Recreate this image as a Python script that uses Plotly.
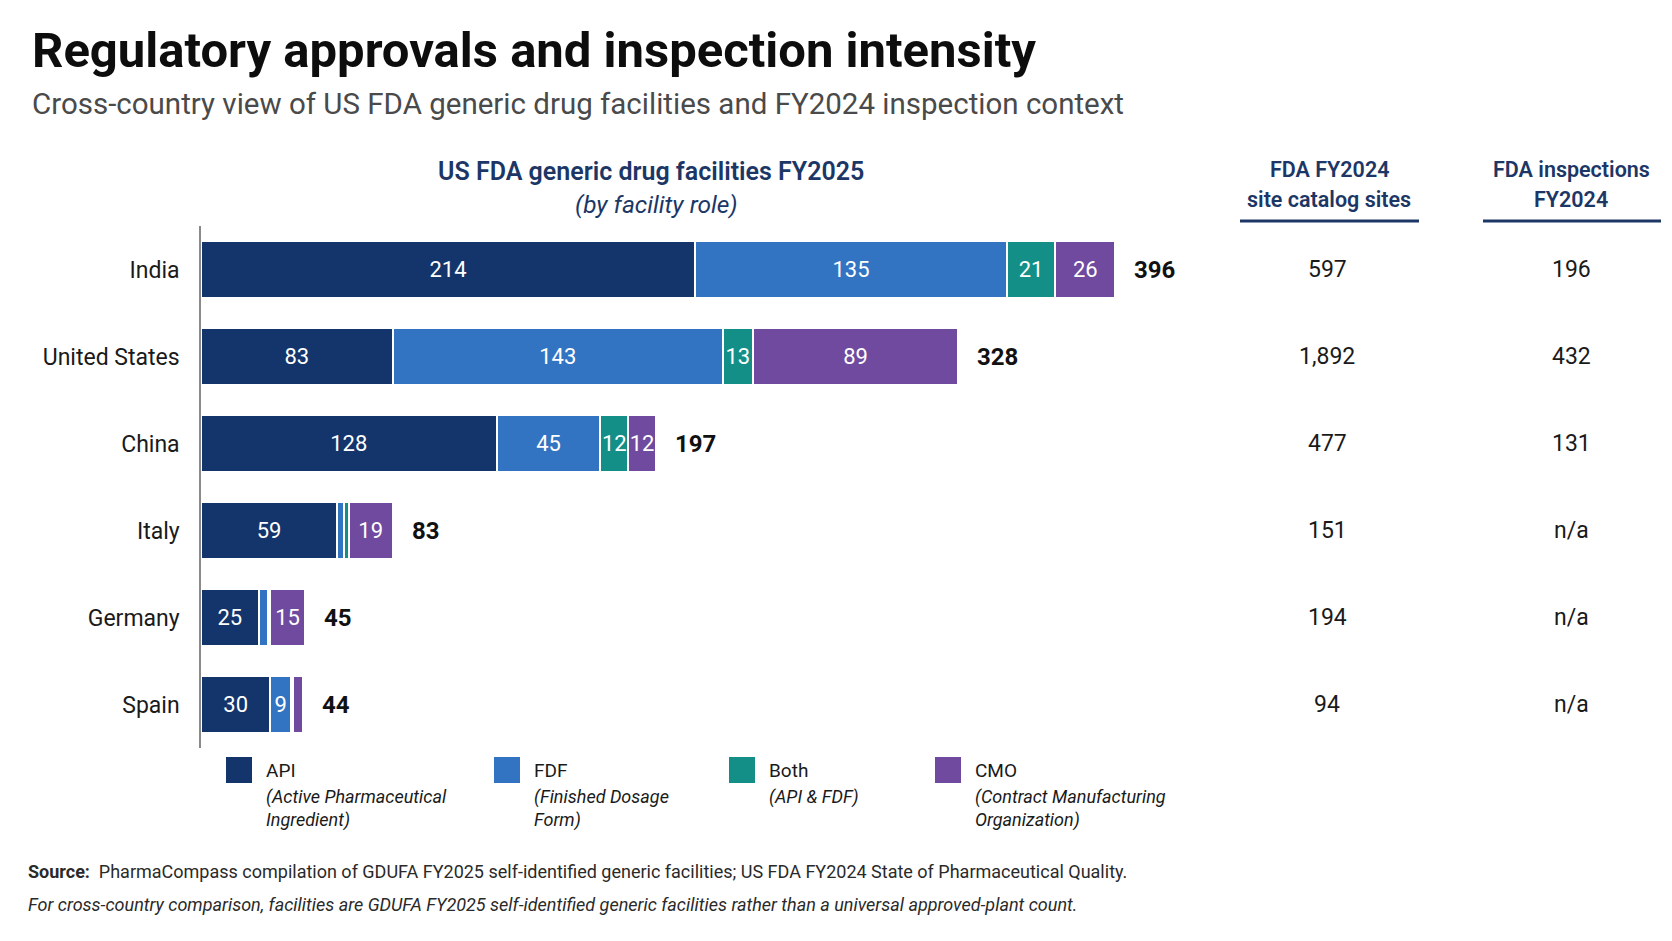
import plotly.graph_objects as go

# ---------------- data ----------------
countries = ["India", "United States", "China", "Italy", "Germany", "Spain"]
api = [214, 83, 128, 59, 25, 30]
fdf = [135, 143, 45, 3, 4, 9]
both = [21, 13, 12, 2, 1, 1]
cmo = [26, 89, 12, 19, 15, 4]
catalog_sites = [597, 1892, 477, 151, 194, 94]
inspections = [196, 432, 131, None, None, None]

series_names = ["API", "FDF", "Both", "CMO"]
series_desc = ["(Active Pharmaceutical<br>Ingredient)", "(Finished Dosage<br>Form)",
               "(API & FDF)", "(Contract Manufacturing<br>Organization)"]
series_colors = ["#13356b", "#3374c2", "#148f88", "#6f4a9e"]

# ---------------- layout geometry (pixels) ----------------
W_FIG, H_FIG = 1672, 941
L, R_EDGE = 201, 1210          # plot area left / right
T, B = 226, 748                # plot area top / bottom
PW, PH = R_EDGE - L, B - T
X_MAX = 437
PX_PER_UNIT = PW / X_MAX

FONT = "Roboto, Lato, 'Noto Sans', sans-serif"
NAVY = "#1c3766"


def px(xp):
    return (xp - L) / PW


def py(yp):
    return (B - yp) / PH


fig = go.Figure()

for name, vals, col in zip(series_names, [api, fdf, both, cmo], series_colors):
    labels = [str(v) if v * PX_PER_UNIT >= len(str(v)) * 12 + 2 else "" for v in vals]
    fig.add_trace(go.Bar(
        y=countries, x=vals, name=name, orientation="h",
        marker=dict(color=col, line=dict(color="white", width=2)),
        text=labels, textposition="inside", insidetextanchor="middle",
        textangle=0, constraintext="none",
        textfont=dict(color="white", size=22, family=FONT),
        width=0.66, hoverinfo="x+y+name",
    ))

annotations = []
shapes = []


def note(x, y, text, size, color, xanchor="center", yanchor="middle", weight=None,
         align="center", xref="paper", yref="paper"):
    f = dict(size=size, color=color, family=FONT)
    if weight:
        f["weight"] = weight
    annotations.append(dict(x=x, y=y, xref=xref, yref=yref, text=text, showarrow=False,
                            xanchor=xanchor, yanchor=yanchor, align=align, font=f))


# totals
totals = [a + b + c + d for a, b, c, d in zip(api, fdf, both, cmo)]
for c, t in zip(countries, totals):
    annotations.append(dict(x=t, y=c, xref="x", yref="y", text=f"<b>{t}</b>",
                            xanchor="left", yanchor="middle", xshift=17, showarrow=False,
                            font=dict(size=24, color="#111111", family=FONT)))

# right columns
for c, s, i in zip(countries, catalog_sites, inspections):
    note(px(1327), c, f"{s:,}", 23, "#1a1a1a", yref="y")
    note(px(1571), c, "n/a" if i is None else f"{i:,}", 23, "#1a1a1a", yref="y")

# title and subtitle
note(px(30), py(50), "<b>Regulatory approvals and inspection intensity</b>", 49, "#0d0d0d",
     xanchor="left")
note(px(30), py(104), "Cross-country view of US FDA generic drug facilities and FY2024 inspection context",
     29.5, "#4a4a4a", xanchor="left")

# section headers
note(px(651), py(171), "US FDA generic drug facilities FY2025", 25, NAVY, weight=600)
note(px(656), py(204), "<i>(by facility role)</i>", 24.5, NAVY)
note(px(1329), py(169), "FDA FY2024", 21.5, NAVY, weight=600)
note(px(1329), py(199), "site catalog sites", 21.5, NAVY, weight=600)
note(px(1571), py(169), "FDA inspections", 21.5, NAVY, weight=600)
note(px(1571), py(199), "FY2024", 21.5, NAVY, weight=600)
for x0, x1 in [(1240, 1419), (1483, 1661)]:
    shapes.append(dict(type="line", xref="paper", yref="paper", x0=px(x0), x1=px(x1),
                       y0=py(221), y1=py(221), line=dict(color=NAVY, width=3)))

# custom legend
legend_sq_x = [226, 494, 729, 935]
for sx, name, desc, col in zip(legend_sq_x, series_names, series_desc, series_colors):
    shapes.append(dict(type="rect", xref="paper", yref="paper", x0=px(sx), x1=px(sx + 26),
                       y0=py(783), y1=py(757), fillcolor=col, line=dict(width=0)))
    note(px(sx + 38), py(770), name, 19, "#1a1a1a", xanchor="left")
    note(px(sx + 38), py(784), f"<i>{desc}</i>", 18, "#1a1a1a", xanchor="left",
         yanchor="top", align="left")

# source notes
note(px(26), py(871),
     "<b>Source:</b>  PharmaCompass compilation of GDUFA FY2025 self-identified generic facilities; US FDA FY2024 State of Pharmaceutical Quality.",
     18, "#2a2a2a", xanchor="left")
note(px(26), py(904),
     "<i>For cross-country comparison, facilities are GDUFA FY2025 self-identified generic facilities rather than a universal approved-plant count.</i>",
     18, "#2a2a2a", xanchor="left")

fig.update_layout(
    width=W_FIG, height=H_FIG,
    margin=dict(l=L, r=W_FIG - R_EDGE, t=T, b=H_FIG - B, autoexpand=False),
    barmode="stack", bargap=0.34,
    plot_bgcolor="white", paper_bgcolor="white",
    showlegend=False,
    font=dict(family=FONT),
    xaxis=dict(range=[0, X_MAX], visible=False, fixedrange=True),
    yaxis=dict(autorange="reversed", showline=True, linecolor="#8a8a8a", linewidth=1.5,
               ticks="", showgrid=False, ticklabelstandoff=15,
               tickfont=dict(size=23, color="#1a1a1a", family=FONT)),
    annotations=annotations, shapes=shapes,
)

fig.write_html("out.html")
